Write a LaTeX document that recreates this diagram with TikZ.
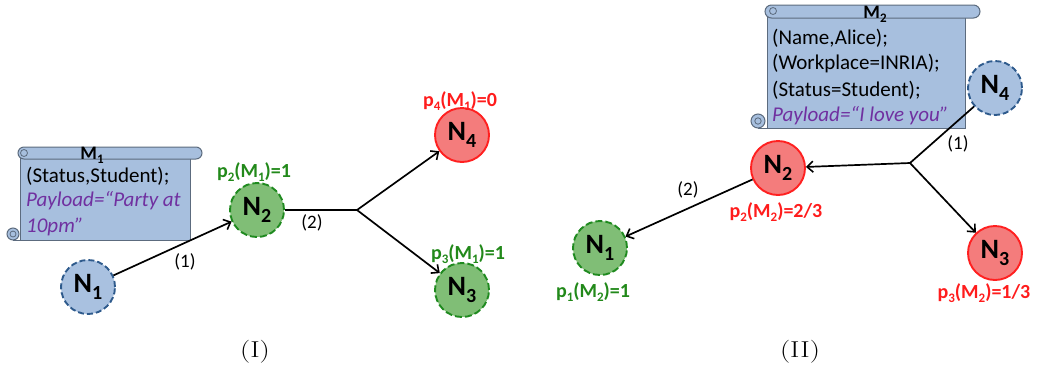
\documentclass[tikz,border=0pt]{standalone}
\usepackage{fontspec}
\newfontfamily\calib{Carlito}
\usetikzlibrary{arrows.meta}
\definecolor{nblue}{HTML}{A9C1E0}
\definecolor{nblueline}{HTML}{2E5A8C}
\definecolor{ngreen}{HTML}{80BE76}
\definecolor{ngreenline}{HTML}{1F8A1F}
\definecolor{nred}{HTML}{F47C7C}
\definecolor{nredline}{HTML}{FF2020}
\definecolor{tgreen}{HTML}{22891A}
\definecolor{tred}{HTML}{FF1C1C}
\definecolor{tpurple}{HTML}{7030A0}
\definecolor{scrfill}{HTML}{A7BFDE}
\definecolor{scrline}{HTML}{5C6B7E}
\newcommand\NN[1]{{\calib\bfseries\fontsize{28}{28}\selectfont N\raisebox{-7pt}{\fontsize{20}{20}\selectfont #1}}}
\newcommand\PL[3]{{\calib\bfseries\fontsize{20}{20}\selectfont p\raisebox{-4pt}{\fontsize{13}{13}\selectfont #1}(M\raisebox{-4pt}{\fontsize{13}{13}\selectfont #2})=#3}}
\newcommand\CAPT[1]{\scalebox{1.25}[1]{\fontsize{23}{23}\selectfont #1}}
\begin{document}
\begin{tikzpicture}[x=1pt,y=-1pt,
  every node/.style={inner sep=0pt},
  arr/.style={line width=1.7pt,-{Straight Barb[length=6pt,width=11pt,line width=1.6pt]}},
  ln/.style={line width=1.7pt},
  nd/.style={circle,minimum size=54pt,line width=1.9pt},
  bluend/.style={nd,fill=nblue,draw=nblueline,dash pattern=on 6pt off 3pt},
  greennd/.style={nd,fill=ngreen,draw=ngreenline,dash pattern=on 7pt off 3pt},
  rednd/.style={nd,fill=nred,draw=nredline},
  scr/.style={fill=scrfill,draw=scrline,line width=1pt},
  stext/.style={anchor=west,font=\calib\fontsize{21}{21}\selectfont},
  ptext/.style={font=\calib\fontsize{21}{21}\selectfont\itshape,text=tpurple,anchor=west},
  elab/.style={font=\calib\fontsize{19}{19}\selectfont},
  mlab/.style={font=\calib\bfseries\fontsize{19}{19}\selectfont}]
\useasboundingbox (0,0) rectangle (1047,373);
% ---------- scroll M1
\filldraw[scr] (13,234) circle (6);
\filldraw[scr] (20,153) rectangle (190,240);
\filldraw[scr,rounded corners=6pt] (18,147) rectangle (202,159);
\draw[scrline,line width=0.8pt] (24,153) circle (3.5);
\draw[scrline,line width=0.8pt] (13,234) circle (3);
\draw[scrline,line width=1pt] (13,240) -- (20,240);
\node[mlab] (m1) at (92,155) {M\raisebox{-4pt}{\fontsize{13}{13}\selectfont 1}};
\node[stext] (s1a) at (26,176) {(Status,Student);};
\node[ptext] (s1b) at (26,201) {Payload=“Party at};
\node[ptext] (s1c) at (26,227) {10pm”};
% ---------- left graph
\node[bluend] (n1) at (88,287) {\NN{1}};
\node[greennd] (n2) at (257,210) {\NN{2}};
\node[rednd] (n4) at (462,135) {\NN{4}};
\node[greennd] (n3) at (462,290) {\NN{3}};
\coordinate (j1) at (357,210);
\draw[arr] (n1) -- (n2);
\draw[ln] (n2) -- (j1);
\draw[arr] (j1) -- (n4);
\draw[arr] (j1) -- (n3);
\node[elab] (l1) at (185,262) {(1)};
\node[elab] (l2) at (312,223) {(2)};
\node[text=tgreen] (p2a) at (254,172) {\PL{2}{1}{1}};
\node[text=tred] (p4a) at (460,101) {\PL{4}{1}{0}};
\node[text=tgreen] (p3a) at (468,254) {\PL{3}{1}{1}};
\node (c1) at (255,352) {\CAPT{(I)}};
% ---------- scroll M2
\filldraw[scr] (758,121) circle (7);
\filldraw[scr] (767,11) rectangle (965,128);
\filldraw[scr,rounded corners=6.5pt] (765,5) rectangle (980,18);
\draw[scrline,line width=0.8pt] (773,11) circle (3.5);
\draw[scrline,line width=0.8pt] (758,121) circle (3.2);
\draw[scrline,line width=1pt] (758,128) -- (767,128);
\node[mlab] (m2) at (875,14) {M\raisebox{-4pt}{\fontsize{13}{13}\selectfont 2}};
\node[stext] (s2a) at (772,38) {(Name,Alice);};
\node[stext] (s2b) at (772,64) {(Workplace=INRIA);};
\node[stext] (s2c) at (772,90) {(Status=Student);};
\node[ptext] (s2d) at (772,116) {Payload=“I love you”};
% ---------- right graph
\node[bluend] (r4) at (995,88) {\NN{4}};
\node[rednd] (r2) at (778,168) {\NN{2}};
\node[rednd] (r3) at (995,253) {\NN{3}};
\node[greennd] (r1) at (600,248) {\NN{1}};
\coordinate (j2) at (910,163);
\draw[ln] (r4) -- (j2);
\draw[arr] (j2) -- (r2);
\draw[arr] (j2) -- (r3);
\draw[arr] (r2) -- (r1);
\node[elab] (l3) at (958,144) {(1)};
\node[elab] (l4) at (688,190) {(2)};
\node[text=tred] (p2b) at (776,212) {\PL{2}{2}{2/3}};
\node[text=tgreen] (p1b) at (593,292) {\PL{1}{2}{1}};
\node[text=tred] (p3b) at (984,293) {\PL{3}{2}{1/3}};
\node (c2) at (800,352) {\CAPT{(II)}};
\end{tikzpicture}
\end{document}
